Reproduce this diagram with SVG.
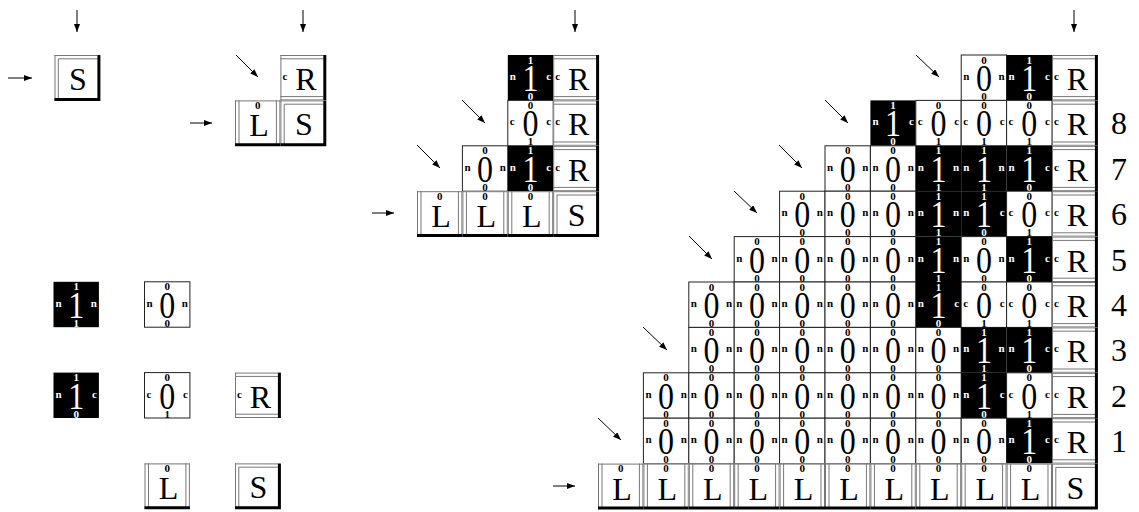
<svg xmlns="http://www.w3.org/2000/svg" width="1139" height="512" viewBox="0 0 1139 512">
<style>
text{font-family:"Liberation Serif","Times New Roman",serif;fill:#000}
.w{fill:#fff;stroke:#222;stroke-width:1}
.b{fill:#000}
.f{fill:#fff}
.d{fill:none;stroke:#777;stroke-width:1}
.k{fill:none;stroke:#000;stroke-width:3}
.sm{font-size:11px;font-weight:bold;text-anchor:middle}
.sl{font-size:11px;font-weight:bold}
.sr{font-size:11px;font-weight:bold;text-anchor:end}
.bg{font-size:32px;text-anchor:middle}
.lt{font-size:32px;text-anchor:middle}
.num{font-size:32px;text-anchor:middle}
.blk text{fill:#fff}
.ar{stroke:#000;stroke-width:1;fill:none;marker-end:url(#ah)}
</style>
<defs><marker id="ah" markerWidth="8" markerHeight="6" refX="8" refY="3" orient="auto" markerUnits="userSpaceOnUse"><path d="M0 0L8 3L0 6z" fill="#000"/></marker></defs>

<!-- single seed -->
<g id="seed1" transform="translate(54.5 55)"><rect class="f" width="45.4" height="45.4"/><path class="d" d="M0.5 0V45.4M3.8 3.8V45.4M0 0.5H43M3.8 3.8H43"/><path class="k" d="M44.4 0V44.4H0"/><text class="lt" x="23.5" y="35">S</text></g>

<!-- second assembly -->
<g id="a2-R" transform="translate(280.4 55)"><rect class="f" width="45.4" height="45.4"/><path class="d" d="M0.5 0V45.4M0 0.5H43M0 3.8H43M0 41.6H43M0 44.9H43"/><path class="k" d="M44.4 0V45.4"/><text class="sl" x="2" y="25">c</text><text class="lt" x="25.5" y="35">R</text></g>
<g id="a2-L" transform="translate(235 100.4)"><rect class="f" width="45.4" height="45.4"/><path class="d" d="M0.5 0V45.4M4 0V45.4M41.4 0V45.4M44.9 0V45.4M0 0.5H45.4"/><path class="k" d="M0 44.4H45.4"/><text class="sm" x="22.7" y="8.5">0</text><text class="lt" x="24" y="36">L</text></g>
<g id="a2-S" transform="translate(280.4 100.4)"><rect class="f" width="45.4" height="45.4"/><path class="d" d="M0.5 0V45.4M3.8 3.8V45.4M0 0.5H43M3.8 3.8H43"/><path class="k" d="M44.4 0V44.4H0"/><text class="lt" x="23.5" y="35">S</text></g>

<!-- legend -->
<g id="lg-b11" class="blk" transform="translate(53.5 281.8)"><rect class="b" width="45.4" height="45.4"/><text class="sm" x="22.7" y="8.5">1</text><text class="bg" transform="matrix(1 0 0 1.2 22.7 36)">1</text><text class="sm" x="22.7" y="45">1</text><text class="sl" x="2" y="25">n</text><text class="sr" x="43.4" y="25">n</text></g>
<g id="lg-w00" transform="translate(144.5 281.8)"><rect class="w" width="45.4" height="45.4"/><text class="sm" x="22.7" y="8.5">0</text><text class="bg" transform="matrix(1 0 0 1.2 22.7 36)">0</text><text class="sm" x="22.7" y="45">0</text><text class="sl" x="2" y="25">n</text><text class="sr" x="43.4" y="25">n</text></g>
<g id="lg-b10" class="blk" transform="translate(53.5 372.6)"><rect class="b" width="45.4" height="45.4"/><text class="sm" x="22.7" y="8.5">1</text><text class="bg" transform="matrix(1 0 0 1.2 22.7 36)">1</text><text class="sm" x="22.7" y="45">0</text><text class="sl" x="2" y="25">n</text><text class="sr" x="43.4" y="25">c</text></g>
<g id="lg-w01" transform="translate(144.5 372.6)"><rect class="w" width="45.4" height="45.4"/><text class="sm" x="22.7" y="8.5">0</text><text class="bg" transform="matrix(1 0 0 1.2 22.7 36)">0</text><text class="sm" x="22.7" y="45">1</text><text class="sl" x="2" y="25">c</text><text class="sr" x="43.4" y="25">c</text></g>
<g id="lg-R" transform="translate(235 372.6)"><rect class="f" width="45.4" height="45.4"/><path class="d" d="M0.5 0V45.4M0 0.5H43M0 3.8H43M0 41.6H43M0 44.9H43"/><path class="k" d="M44.4 0V45.4"/><text class="sl" x="2" y="25">c</text><text class="lt" x="25.5" y="35">R</text></g>
<g id="lg-L" transform="translate(144.5 463.4)"><rect class="f" width="45.4" height="45.4"/><path class="d" d="M0.5 0V45.4M4 0V45.4M41.4 0V45.4M44.9 0V45.4M0 0.5H45.4"/><path class="k" d="M0 44.4H45.4"/><text class="sm" x="22.7" y="8.5">0</text><text class="lt" x="24" y="36">L</text></g>
<g id="lg-S" transform="translate(235 463.4)"><rect class="f" width="45.4" height="45.4"/><path class="d" d="M0.5 0V45.4M3.8 3.8V45.4M0 0.5H43M3.8 3.8H43"/><path class="k" d="M44.4 0V44.4H0"/><text class="lt" x="23.5" y="35">S</text></g>

<!-- middle assembly -->
<g id="m-r3c2" class="blk" transform="translate(507.8 55)"><rect class="b" width="45.4" height="45.4"/><text class="sm" x="22.7" y="8.5">1</text><text class="bg" transform="matrix(1 0 0 1.2 22.7 36)">1</text><text class="sm" x="22.7" y="45">0</text><text class="sl" x="2" y="25">n</text><text class="sr" x="43.4" y="25">c</text></g>
<g id="m-r3R" transform="translate(553.2 55)"><rect class="f" width="45.4" height="45.4"/><path class="d" d="M0.5 0V45.4M0 0.5H43M0 3.8H43M0 41.6H43M0 44.9H43"/><path class="k" d="M44.4 0V45.4"/><text class="sl" x="2" y="25">c</text><text class="lt" x="25.5" y="35">R</text></g>
<g id="m-r2c2" transform="translate(507.8 100.4)"><rect class="w" width="45.4" height="45.4"/><text class="sm" x="22.7" y="8.5">0</text><text class="bg" transform="matrix(1 0 0 1.2 22.7 36)">0</text><text class="sm" x="22.7" y="45">1</text><text class="sl" x="2" y="25">c</text><text class="sr" x="43.4" y="25">c</text></g>
<g id="m-r2R" transform="translate(553.2 100.4)"><rect class="f" width="45.4" height="45.4"/><path class="d" d="M0.5 0V45.4M0 0.5H43M0 3.8H43M0 41.6H43M0 44.9H43"/><path class="k" d="M44.4 0V45.4"/><text class="sl" x="2" y="25">c</text><text class="lt" x="25.5" y="35">R</text></g>
<g id="m-r1c1" transform="translate(462.4 145.8)"><rect class="w" width="45.4" height="45.4"/><text class="sm" x="22.7" y="8.5">0</text><text class="bg" transform="matrix(1 0 0 1.2 22.7 36)">0</text><text class="sm" x="22.7" y="45">0</text><text class="sl" x="2" y="25">n</text><text class="sr" x="43.4" y="25">n</text></g>
<g id="m-r1c2" class="blk" transform="translate(507.8 145.8)"><rect class="b" width="45.4" height="45.4"/><text class="sm" x="22.7" y="8.5">1</text><text class="bg" transform="matrix(1 0 0 1.2 22.7 36)">1</text><text class="sm" x="22.7" y="45">0</text><text class="sl" x="2" y="25">n</text><text class="sr" x="43.4" y="25">c</text></g>
<g id="m-r1R" transform="translate(553.2 145.8)"><rect class="f" width="45.4" height="45.4"/><path class="d" d="M0.5 0V45.4M0 0.5H43M0 3.8H43M0 41.6H43M0 44.9H43"/><path class="k" d="M44.4 0V45.4"/><text class="sl" x="2" y="25">c</text><text class="lt" x="25.5" y="35">R</text></g>
<g id="m-L0" transform="translate(417 191.2)"><rect class="f" width="45.4" height="45.4"/><path class="d" d="M0.5 0V45.4M4 0V45.4M41.4 0V45.4M44.9 0V45.4M0 0.5H45.4"/><path class="k" d="M0 44.4H45.4"/><text class="sm" x="22.7" y="8.5">0</text><text class="lt" x="24" y="36">L</text></g>
<g id="m-L1" transform="translate(462.4 191.2)"><rect class="f" width="45.4" height="45.4"/><path class="d" d="M0.5 0V45.4M4 0V45.4M41.4 0V45.4M44.9 0V45.4M0 0.5H45.4"/><path class="k" d="M0 44.4H45.4"/><text class="sm" x="22.7" y="8.5">0</text><text class="lt" x="24" y="36">L</text></g>
<g id="m-L2" transform="translate(507.8 191.2)"><rect class="f" width="45.4" height="45.4"/><path class="d" d="M0.5 0V45.4M4 0V45.4M41.4 0V45.4M44.9 0V45.4M0 0.5H45.4"/><path class="k" d="M0 44.4H45.4"/><text class="sm" x="22.7" y="8.5">0</text><text class="lt" x="24" y="36">L</text></g>
<g id="m-S" transform="translate(553.2 191.2)"><rect class="f" width="45.4" height="45.4"/><path class="d" d="M0.5 0V45.4M3.8 3.8V45.4M0 0.5H43M3.8 3.8H43"/><path class="k" d="M44.4 0V44.4H0"/><text class="lt" x="23.5" y="35">S</text></g>

<!-- big assembly: row 9 -->
<g id="r9c8" transform="translate(961.2 55)"><rect class="w" width="45.4" height="45.4"/><text class="sm" x="22.7" y="8.5">0</text><text class="bg" transform="matrix(1 0 0 1.2 22.7 36)">0</text><text class="sm" x="22.7" y="45">0</text><text class="sl" x="2" y="25">n</text><text class="sr" x="43.4" y="25">n</text></g>
<g id="r9c9" class="blk" transform="translate(1006.6 55)"><rect class="b" width="45.4" height="45.4"/><text class="sm" x="22.7" y="8.5">1</text><text class="bg" transform="matrix(1 0 0 1.2 22.7 36)">1</text><text class="sm" x="22.7" y="45">0</text><text class="sl" x="2" y="25">n</text><text class="sr" x="43.4" y="25">c</text></g>
<g id="r9R" transform="translate(1052 55)"><rect class="f" width="45.4" height="45.4"/><path class="d" d="M0.5 0V45.4M0 0.5H43M0 3.8H43M0 41.6H43M0 44.9H43"/><path class="k" d="M44.4 0V45.4"/><text class="sl" x="2" y="25">c</text><text class="lt" x="25.5" y="35">R</text></g>

<!-- row 8 -->
<g id="r8c6" class="blk" transform="translate(870.4 100.4)"><rect class="b" width="45.4" height="45.4"/><text class="sm" x="22.7" y="8.5">1</text><text class="bg" transform="matrix(1 0 0 1.2 22.7 36)">1</text><text class="sm" x="22.7" y="45">0</text><text class="sl" x="2" y="25">n</text><text class="sr" x="43.4" y="25">c</text></g>
<g id="r8c7" transform="translate(915.8 100.4)"><rect class="w" width="45.4" height="45.4"/><text class="sm" x="22.7" y="8.5">0</text><text class="bg" transform="matrix(1 0 0 1.2 22.7 36)">0</text><text class="sm" x="22.7" y="45">1</text><text class="sl" x="2" y="25">c</text><text class="sr" x="43.4" y="25">c</text></g>
<g id="r8c8" transform="translate(961.2 100.4)"><rect class="w" width="45.4" height="45.4"/><text class="sm" x="22.7" y="8.5">0</text><text class="bg" transform="matrix(1 0 0 1.2 22.7 36)">0</text><text class="sm" x="22.7" y="45">1</text><text class="sl" x="2" y="25">c</text><text class="sr" x="43.4" y="25">c</text></g>
<g id="r8c9" transform="translate(1006.6 100.4)"><rect class="w" width="45.4" height="45.4"/><text class="sm" x="22.7" y="8.5">0</text><text class="bg" transform="matrix(1 0 0 1.2 22.7 36)">0</text><text class="sm" x="22.7" y="45">1</text><text class="sl" x="2" y="25">c</text><text class="sr" x="43.4" y="25">c</text></g>
<g id="r8R" transform="translate(1052 100.4)"><rect class="f" width="45.4" height="45.4"/><path class="d" d="M0.5 0V45.4M0 0.5H43M0 3.8H43M0 41.6H43M0 44.9H43"/><path class="k" d="M44.4 0V45.4"/><text class="sl" x="2" y="25">c</text><text class="lt" x="25.5" y="35">R</text></g>

<!-- row 7 -->
<g id="r7c5" transform="translate(825 145.8)"><rect class="w" width="45.4" height="45.4"/><text class="sm" x="22.7" y="8.5">0</text><text class="bg" transform="matrix(1 0 0 1.2 22.7 36)">0</text><text class="sm" x="22.7" y="45">0</text><text class="sl" x="2" y="25">n</text><text class="sr" x="43.4" y="25">n</text></g>
<g id="r7c6" transform="translate(870.4 145.8)"><rect class="w" width="45.4" height="45.4"/><text class="sm" x="22.7" y="8.5">0</text><text class="bg" transform="matrix(1 0 0 1.2 22.7 36)">0</text><text class="sm" x="22.7" y="45">0</text><text class="sl" x="2" y="25">n</text><text class="sr" x="43.4" y="25">n</text></g>
<g id="r7c7" class="blk" transform="translate(915.8 145.8)"><rect class="b" width="45.4" height="45.4"/><text class="sm" x="22.7" y="8.5">1</text><text class="bg" transform="matrix(1 0 0 1.2 22.7 36)">1</text><text class="sm" x="22.7" y="45">1</text><text class="sl" x="2" y="25">n</text><text class="sr" x="43.4" y="25">n</text></g>
<g id="r7c8" class="blk" transform="translate(961.2 145.8)"><rect class="b" width="45.4" height="45.4"/><text class="sm" x="22.7" y="8.5">1</text><text class="bg" transform="matrix(1 0 0 1.2 22.7 36)">1</text><text class="sm" x="22.7" y="45">1</text><text class="sl" x="2" y="25">n</text><text class="sr" x="43.4" y="25">n</text></g>
<g id="r7c9" class="blk" transform="translate(1006.6 145.8)"><rect class="b" width="45.4" height="45.4"/><text class="sm" x="22.7" y="8.5">1</text><text class="bg" transform="matrix(1 0 0 1.2 22.7 36)">1</text><text class="sm" x="22.7" y="45">0</text><text class="sl" x="2" y="25">n</text><text class="sr" x="43.4" y="25">c</text></g>
<g id="r7R" transform="translate(1052 145.8)"><rect class="f" width="45.4" height="45.4"/><path class="d" d="M0.5 0V45.4M0 0.5H43M0 3.8H43M0 41.6H43M0 44.9H43"/><path class="k" d="M44.4 0V45.4"/><text class="sl" x="2" y="25">c</text><text class="lt" x="25.5" y="35">R</text></g>

<!-- row 6 -->
<g id="r6c4" transform="translate(779.6 191.2)"><rect class="w" width="45.4" height="45.4"/><text class="sm" x="22.7" y="8.5">0</text><text class="bg" transform="matrix(1 0 0 1.2 22.7 36)">0</text><text class="sm" x="22.7" y="45">0</text><text class="sl" x="2" y="25">n</text><text class="sr" x="43.4" y="25">n</text></g>
<g id="r6c5" transform="translate(825 191.2)"><rect class="w" width="45.4" height="45.4"/><text class="sm" x="22.7" y="8.5">0</text><text class="bg" transform="matrix(1 0 0 1.2 22.7 36)">0</text><text class="sm" x="22.7" y="45">0</text><text class="sl" x="2" y="25">n</text><text class="sr" x="43.4" y="25">n</text></g>
<g id="r6c6" transform="translate(870.4 191.2)"><rect class="w" width="45.4" height="45.4"/><text class="sm" x="22.7" y="8.5">0</text><text class="bg" transform="matrix(1 0 0 1.2 22.7 36)">0</text><text class="sm" x="22.7" y="45">0</text><text class="sl" x="2" y="25">n</text><text class="sr" x="43.4" y="25">n</text></g>
<g id="r6c7" class="blk" transform="translate(915.8 191.2)"><rect class="b" width="45.4" height="45.4"/><text class="sm" x="22.7" y="8.5">1</text><text class="bg" transform="matrix(1 0 0 1.2 22.7 36)">1</text><text class="sm" x="22.7" y="45">1</text><text class="sl" x="2" y="25">n</text><text class="sr" x="43.4" y="25">n</text></g>
<g id="r6c8" class="blk" transform="translate(961.2 191.2)"><rect class="b" width="45.4" height="45.4"/><text class="sm" x="22.7" y="8.5">1</text><text class="bg" transform="matrix(1 0 0 1.2 22.7 36)">1</text><text class="sm" x="22.7" y="45">0</text><text class="sl" x="2" y="25">n</text><text class="sr" x="43.4" y="25">c</text></g>
<g id="r6c9" transform="translate(1006.6 191.2)"><rect class="w" width="45.4" height="45.4"/><text class="sm" x="22.7" y="8.5">0</text><text class="bg" transform="matrix(1 0 0 1.2 22.7 36)">0</text><text class="sm" x="22.7" y="45">1</text><text class="sl" x="2" y="25">c</text><text class="sr" x="43.4" y="25">c</text></g>
<g id="r6R" transform="translate(1052 191.2)"><rect class="f" width="45.4" height="45.4"/><path class="d" d="M0.5 0V45.4M0 0.5H43M0 3.8H43M0 41.6H43M0 44.9H43"/><path class="k" d="M44.4 0V45.4"/><text class="sl" x="2" y="25">c</text><text class="lt" x="25.5" y="35">R</text></g>

<!-- row 5 -->
<g id="r5c3" transform="translate(734.2 236.6)"><rect class="w" width="45.4" height="45.4"/><text class="sm" x="22.7" y="8.5">0</text><text class="bg" transform="matrix(1 0 0 1.2 22.7 36)">0</text><text class="sm" x="22.7" y="45">0</text><text class="sl" x="2" y="25">n</text><text class="sr" x="43.4" y="25">n</text></g>
<g id="r5c4" transform="translate(779.6 236.6)"><rect class="w" width="45.4" height="45.4"/><text class="sm" x="22.7" y="8.5">0</text><text class="bg" transform="matrix(1 0 0 1.2 22.7 36)">0</text><text class="sm" x="22.7" y="45">0</text><text class="sl" x="2" y="25">n</text><text class="sr" x="43.4" y="25">n</text></g>
<g id="r5c5" transform="translate(825 236.6)"><rect class="w" width="45.4" height="45.4"/><text class="sm" x="22.7" y="8.5">0</text><text class="bg" transform="matrix(1 0 0 1.2 22.7 36)">0</text><text class="sm" x="22.7" y="45">0</text><text class="sl" x="2" y="25">n</text><text class="sr" x="43.4" y="25">n</text></g>
<g id="r5c6" transform="translate(870.4 236.6)"><rect class="w" width="45.4" height="45.4"/><text class="sm" x="22.7" y="8.5">0</text><text class="bg" transform="matrix(1 0 0 1.2 22.7 36)">0</text><text class="sm" x="22.7" y="45">0</text><text class="sl" x="2" y="25">n</text><text class="sr" x="43.4" y="25">n</text></g>
<g id="r5c7" class="blk" transform="translate(915.8 236.6)"><rect class="b" width="45.4" height="45.4"/><text class="sm" x="22.7" y="8.5">1</text><text class="bg" transform="matrix(1 0 0 1.2 22.7 36)">1</text><text class="sm" x="22.7" y="45">1</text><text class="sl" x="2" y="25">n</text><text class="sr" x="43.4" y="25">n</text></g>
<g id="r5c8" transform="translate(961.2 236.6)"><rect class="w" width="45.4" height="45.4"/><text class="sm" x="22.7" y="8.5">0</text><text class="bg" transform="matrix(1 0 0 1.2 22.7 36)">0</text><text class="sm" x="22.7" y="45">0</text><text class="sl" x="2" y="25">n</text><text class="sr" x="43.4" y="25">n</text></g>
<g id="r5c9" class="blk" transform="translate(1006.6 236.6)"><rect class="b" width="45.4" height="45.4"/><text class="sm" x="22.7" y="8.5">1</text><text class="bg" transform="matrix(1 0 0 1.2 22.7 36)">1</text><text class="sm" x="22.7" y="45">0</text><text class="sl" x="2" y="25">n</text><text class="sr" x="43.4" y="25">c</text></g>
<g id="r5R" transform="translate(1052 236.6)"><rect class="f" width="45.4" height="45.4"/><path class="d" d="M0.5 0V45.4M0 0.5H43M0 3.8H43M0 41.6H43M0 44.9H43"/><path class="k" d="M44.4 0V45.4"/><text class="sl" x="2" y="25">c</text><text class="lt" x="25.5" y="35">R</text></g>

<!-- row 4 -->
<g id="r4c2" transform="translate(688.8 282)"><rect class="w" width="45.4" height="45.4"/><text class="sm" x="22.7" y="8.5">0</text><text class="bg" transform="matrix(1 0 0 1.2 22.7 36)">0</text><text class="sm" x="22.7" y="45">0</text><text class="sl" x="2" y="25">n</text><text class="sr" x="43.4" y="25">n</text></g>
<g id="r4c3" transform="translate(734.2 282)"><rect class="w" width="45.4" height="45.4"/><text class="sm" x="22.7" y="8.5">0</text><text class="bg" transform="matrix(1 0 0 1.2 22.7 36)">0</text><text class="sm" x="22.7" y="45">0</text><text class="sl" x="2" y="25">n</text><text class="sr" x="43.4" y="25">n</text></g>
<g id="r4c4" transform="translate(779.6 282)"><rect class="w" width="45.4" height="45.4"/><text class="sm" x="22.7" y="8.5">0</text><text class="bg" transform="matrix(1 0 0 1.2 22.7 36)">0</text><text class="sm" x="22.7" y="45">0</text><text class="sl" x="2" y="25">n</text><text class="sr" x="43.4" y="25">n</text></g>
<g id="r4c5" transform="translate(825 282)"><rect class="w" width="45.4" height="45.4"/><text class="sm" x="22.7" y="8.5">0</text><text class="bg" transform="matrix(1 0 0 1.2 22.7 36)">0</text><text class="sm" x="22.7" y="45">0</text><text class="sl" x="2" y="25">n</text><text class="sr" x="43.4" y="25">n</text></g>
<g id="r4c6" transform="translate(870.4 282)"><rect class="w" width="45.4" height="45.4"/><text class="sm" x="22.7" y="8.5">0</text><text class="bg" transform="matrix(1 0 0 1.2 22.7 36)">0</text><text class="sm" x="22.7" y="45">0</text><text class="sl" x="2" y="25">n</text><text class="sr" x="43.4" y="25">n</text></g>
<g id="r4c7" class="blk" transform="translate(915.8 282)"><rect class="b" width="45.4" height="45.4"/><text class="sm" x="22.7" y="8.5">1</text><text class="bg" transform="matrix(1 0 0 1.2 22.7 36)">1</text><text class="sm" x="22.7" y="45">0</text><text class="sl" x="2" y="25">n</text><text class="sr" x="43.4" y="25">c</text></g>
<g id="r4c8" transform="translate(961.2 282)"><rect class="w" width="45.4" height="45.4"/><text class="sm" x="22.7" y="8.5">0</text><text class="bg" transform="matrix(1 0 0 1.2 22.7 36)">0</text><text class="sm" x="22.7" y="45">1</text><text class="sl" x="2" y="25">c</text><text class="sr" x="43.4" y="25">c</text></g>
<g id="r4c9" transform="translate(1006.6 282)"><rect class="w" width="45.4" height="45.4"/><text class="sm" x="22.7" y="8.5">0</text><text class="bg" transform="matrix(1 0 0 1.2 22.7 36)">0</text><text class="sm" x="22.7" y="45">1</text><text class="sl" x="2" y="25">c</text><text class="sr" x="43.4" y="25">c</text></g>
<g id="r4R" transform="translate(1052 282)"><rect class="f" width="45.4" height="45.4"/><path class="d" d="M0.5 0V45.4M0 0.5H43M0 3.8H43M0 41.6H43M0 44.9H43"/><path class="k" d="M44.4 0V45.4"/><text class="sl" x="2" y="25">c</text><text class="lt" x="25.5" y="35">R</text></g>

<!-- row 3 -->
<g id="r3c2" transform="translate(688.8 327.4)"><rect class="w" width="45.4" height="45.4"/><text class="sm" x="22.7" y="8.5">0</text><text class="bg" transform="matrix(1 0 0 1.2 22.7 36)">0</text><text class="sm" x="22.7" y="45">0</text><text class="sl" x="2" y="25">n</text><text class="sr" x="43.4" y="25">n</text></g>
<g id="r3c3" transform="translate(734.2 327.4)"><rect class="w" width="45.4" height="45.4"/><text class="sm" x="22.7" y="8.5">0</text><text class="bg" transform="matrix(1 0 0 1.2 22.7 36)">0</text><text class="sm" x="22.7" y="45">0</text><text class="sl" x="2" y="25">n</text><text class="sr" x="43.4" y="25">n</text></g>
<g id="r3c4" transform="translate(779.6 327.4)"><rect class="w" width="45.4" height="45.4"/><text class="sm" x="22.7" y="8.5">0</text><text class="bg" transform="matrix(1 0 0 1.2 22.7 36)">0</text><text class="sm" x="22.7" y="45">0</text><text class="sl" x="2" y="25">n</text><text class="sr" x="43.4" y="25">n</text></g>
<g id="r3c5" transform="translate(825 327.4)"><rect class="w" width="45.4" height="45.4"/><text class="sm" x="22.7" y="8.5">0</text><text class="bg" transform="matrix(1 0 0 1.2 22.7 36)">0</text><text class="sm" x="22.7" y="45">0</text><text class="sl" x="2" y="25">n</text><text class="sr" x="43.4" y="25">n</text></g>
<g id="r3c6" transform="translate(870.4 327.4)"><rect class="w" width="45.4" height="45.4"/><text class="sm" x="22.7" y="8.5">0</text><text class="bg" transform="matrix(1 0 0 1.2 22.7 36)">0</text><text class="sm" x="22.7" y="45">0</text><text class="sl" x="2" y="25">n</text><text class="sr" x="43.4" y="25">n</text></g>
<g id="r3c7" transform="translate(915.8 327.4)"><rect class="w" width="45.4" height="45.4"/><text class="sm" x="22.7" y="8.5">0</text><text class="bg" transform="matrix(1 0 0 1.2 22.7 36)">0</text><text class="sm" x="22.7" y="45">0</text><text class="sl" x="2" y="25">n</text><text class="sr" x="43.4" y="25">n</text></g>
<g id="r3c8" class="blk" transform="translate(961.2 327.4)"><rect class="b" width="45.4" height="45.4"/><text class="sm" x="22.7" y="8.5">1</text><text class="bg" transform="matrix(1 0 0 1.2 22.7 36)">1</text><text class="sm" x="22.7" y="45">1</text><text class="sl" x="2" y="25">n</text><text class="sr" x="43.4" y="25">n</text></g>
<g id="r3c9" class="blk" transform="translate(1006.6 327.4)"><rect class="b" width="45.4" height="45.4"/><text class="sm" x="22.7" y="8.5">1</text><text class="bg" transform="matrix(1 0 0 1.2 22.7 36)">1</text><text class="sm" x="22.7" y="45">0</text><text class="sl" x="2" y="25">n</text><text class="sr" x="43.4" y="25">c</text></g>
<g id="r3R" transform="translate(1052 327.4)"><rect class="f" width="45.4" height="45.4"/><path class="d" d="M0.5 0V45.4M0 0.5H43M0 3.8H43M0 41.6H43M0 44.9H43"/><path class="k" d="M44.4 0V45.4"/><text class="sl" x="2" y="25">c</text><text class="lt" x="25.5" y="35">R</text></g>

<!-- row 2 -->
<g id="r2c1" transform="translate(643.4 372.8)"><rect class="w" width="45.4" height="45.4"/><text class="sm" x="22.7" y="8.5">0</text><text class="bg" transform="matrix(1 0 0 1.2 22.7 36)">0</text><text class="sm" x="22.7" y="45">0</text><text class="sl" x="2" y="25">n</text><text class="sr" x="43.4" y="25">n</text></g>
<g id="r2c2" transform="translate(688.8 372.8)"><rect class="w" width="45.4" height="45.4"/><text class="sm" x="22.7" y="8.5">0</text><text class="bg" transform="matrix(1 0 0 1.2 22.7 36)">0</text><text class="sm" x="22.7" y="45">0</text><text class="sl" x="2" y="25">n</text><text class="sr" x="43.4" y="25">n</text></g>
<g id="r2c3" transform="translate(734.2 372.8)"><rect class="w" width="45.4" height="45.4"/><text class="sm" x="22.7" y="8.5">0</text><text class="bg" transform="matrix(1 0 0 1.2 22.7 36)">0</text><text class="sm" x="22.7" y="45">0</text><text class="sl" x="2" y="25">n</text><text class="sr" x="43.4" y="25">n</text></g>
<g id="r2c4" transform="translate(779.6 372.8)"><rect class="w" width="45.4" height="45.4"/><text class="sm" x="22.7" y="8.5">0</text><text class="bg" transform="matrix(1 0 0 1.2 22.7 36)">0</text><text class="sm" x="22.7" y="45">0</text><text class="sl" x="2" y="25">n</text><text class="sr" x="43.4" y="25">n</text></g>
<g id="r2c5" transform="translate(825 372.8)"><rect class="w" width="45.4" height="45.4"/><text class="sm" x="22.7" y="8.5">0</text><text class="bg" transform="matrix(1 0 0 1.2 22.7 36)">0</text><text class="sm" x="22.7" y="45">0</text><text class="sl" x="2" y="25">n</text><text class="sr" x="43.4" y="25">n</text></g>
<g id="r2c6" transform="translate(870.4 372.8)"><rect class="w" width="45.4" height="45.4"/><text class="sm" x="22.7" y="8.5">0</text><text class="bg" transform="matrix(1 0 0 1.2 22.7 36)">0</text><text class="sm" x="22.7" y="45">0</text><text class="sl" x="2" y="25">n</text><text class="sr" x="43.4" y="25">n</text></g>
<g id="r2c7" transform="translate(915.8 372.8)"><rect class="w" width="45.4" height="45.4"/><text class="sm" x="22.7" y="8.5">0</text><text class="bg" transform="matrix(1 0 0 1.2 22.7 36)">0</text><text class="sm" x="22.7" y="45">0</text><text class="sl" x="2" y="25">n</text><text class="sr" x="43.4" y="25">n</text></g>
<g id="r2c8" class="blk" transform="translate(961.2 372.8)"><rect class="b" width="45.4" height="45.4"/><text class="sm" x="22.7" y="8.5">1</text><text class="bg" transform="matrix(1 0 0 1.2 22.7 36)">1</text><text class="sm" x="22.7" y="45">0</text><text class="sl" x="2" y="25">n</text><text class="sr" x="43.4" y="25">c</text></g>
<g id="r2c9" transform="translate(1006.6 372.8)"><rect class="w" width="45.4" height="45.4"/><text class="sm" x="22.7" y="8.5">0</text><text class="bg" transform="matrix(1 0 0 1.2 22.7 36)">0</text><text class="sm" x="22.7" y="45">1</text><text class="sl" x="2" y="25">c</text><text class="sr" x="43.4" y="25">c</text></g>
<g id="r2R" transform="translate(1052 372.8)"><rect class="f" width="45.4" height="45.4"/><path class="d" d="M0.5 0V45.4M0 0.5H43M0 3.8H43M0 41.6H43M0 44.9H43"/><path class="k" d="M44.4 0V45.4"/><text class="sl" x="2" y="25">c</text><text class="lt" x="25.5" y="35">R</text></g>

<!-- row 1 -->
<g id="r1c1" transform="translate(643.4 418.2)"><rect class="w" width="45.4" height="45.4"/><text class="sm" x="22.7" y="8.5">0</text><text class="bg" transform="matrix(1 0 0 1.2 22.7 36)">0</text><text class="sm" x="22.7" y="45">0</text><text class="sl" x="2" y="25">n</text><text class="sr" x="43.4" y="25">n</text></g>
<g id="r1c2" transform="translate(688.8 418.2)"><rect class="w" width="45.4" height="45.4"/><text class="sm" x="22.7" y="8.5">0</text><text class="bg" transform="matrix(1 0 0 1.2 22.7 36)">0</text><text class="sm" x="22.7" y="45">0</text><text class="sl" x="2" y="25">n</text><text class="sr" x="43.4" y="25">n</text></g>
<g id="r1c3" transform="translate(734.2 418.2)"><rect class="w" width="45.4" height="45.4"/><text class="sm" x="22.7" y="8.5">0</text><text class="bg" transform="matrix(1 0 0 1.2 22.7 36)">0</text><text class="sm" x="22.7" y="45">0</text><text class="sl" x="2" y="25">n</text><text class="sr" x="43.4" y="25">n</text></g>
<g id="r1c4" transform="translate(779.6 418.2)"><rect class="w" width="45.4" height="45.4"/><text class="sm" x="22.7" y="8.5">0</text><text class="bg" transform="matrix(1 0 0 1.2 22.7 36)">0</text><text class="sm" x="22.7" y="45">0</text><text class="sl" x="2" y="25">n</text><text class="sr" x="43.4" y="25">n</text></g>
<g id="r1c5" transform="translate(825 418.2)"><rect class="w" width="45.4" height="45.4"/><text class="sm" x="22.7" y="8.5">0</text><text class="bg" transform="matrix(1 0 0 1.2 22.7 36)">0</text><text class="sm" x="22.7" y="45">0</text><text class="sl" x="2" y="25">n</text><text class="sr" x="43.4" y="25">n</text></g>
<g id="r1c6" transform="translate(870.4 418.2)"><rect class="w" width="45.4" height="45.4"/><text class="sm" x="22.7" y="8.5">0</text><text class="bg" transform="matrix(1 0 0 1.2 22.7 36)">0</text><text class="sm" x="22.7" y="45">0</text><text class="sl" x="2" y="25">n</text><text class="sr" x="43.4" y="25">n</text></g>
<g id="r1c7" transform="translate(915.8 418.2)"><rect class="w" width="45.4" height="45.4"/><text class="sm" x="22.7" y="8.5">0</text><text class="bg" transform="matrix(1 0 0 1.2 22.7 36)">0</text><text class="sm" x="22.7" y="45">0</text><text class="sl" x="2" y="25">n</text><text class="sr" x="43.4" y="25">n</text></g>
<g id="r1c8" transform="translate(961.2 418.2)"><rect class="w" width="45.4" height="45.4"/><text class="sm" x="22.7" y="8.5">0</text><text class="bg" transform="matrix(1 0 0 1.2 22.7 36)">0</text><text class="sm" x="22.7" y="45">0</text><text class="sl" x="2" y="25">n</text><text class="sr" x="43.4" y="25">n</text></g>
<g id="r1c9" class="blk" transform="translate(1006.6 418.2)"><rect class="b" width="45.4" height="45.4"/><text class="sm" x="22.7" y="8.5">1</text><text class="bg" transform="matrix(1 0 0 1.2 22.7 36)">1</text><text class="sm" x="22.7" y="45">0</text><text class="sl" x="2" y="25">n</text><text class="sr" x="43.4" y="25">c</text></g>
<g id="r1R" transform="translate(1052 418.2)"><rect class="f" width="45.4" height="45.4"/><path class="d" d="M0.5 0V45.4M0 0.5H43M0 3.8H43M0 41.6H43M0 44.9H43"/><path class="k" d="M44.4 0V45.4"/><text class="sl" x="2" y="25">c</text><text class="lt" x="25.5" y="35">R</text></g>

<!-- row 0 -->
<g id="r0c0" transform="translate(598 463.6)"><rect class="f" width="45.4" height="45.4"/><path class="d" d="M0.5 0V45.4M4 0V45.4M41.4 0V45.4M44.9 0V45.4M0 0.5H45.4"/><path class="k" d="M0 44.4H45.4"/><text class="sm" x="22.7" y="8.5">0</text><text class="lt" x="24" y="36">L</text></g>
<g id="r0c1" transform="translate(643.4 463.6)"><rect class="f" width="45.4" height="45.4"/><path class="d" d="M0.5 0V45.4M4 0V45.4M41.4 0V45.4M44.9 0V45.4M0 0.5H45.4"/><path class="k" d="M0 44.4H45.4"/><text class="sm" x="22.7" y="8.5">0</text><text class="lt" x="24" y="36">L</text></g>
<g id="r0c2" transform="translate(688.8 463.6)"><rect class="f" width="45.4" height="45.4"/><path class="d" d="M0.5 0V45.4M4 0V45.4M41.4 0V45.4M44.9 0V45.4M0 0.5H45.4"/><path class="k" d="M0 44.4H45.4"/><text class="sm" x="22.7" y="8.5">0</text><text class="lt" x="24" y="36">L</text></g>
<g id="r0c3" transform="translate(734.2 463.6)"><rect class="f" width="45.4" height="45.4"/><path class="d" d="M0.5 0V45.4M4 0V45.4M41.4 0V45.4M44.9 0V45.4M0 0.5H45.4"/><path class="k" d="M0 44.4H45.4"/><text class="sm" x="22.7" y="8.5">0</text><text class="lt" x="24" y="36">L</text></g>
<g id="r0c4" transform="translate(779.6 463.6)"><rect class="f" width="45.4" height="45.4"/><path class="d" d="M0.5 0V45.4M4 0V45.4M41.4 0V45.4M44.9 0V45.4M0 0.5H45.4"/><path class="k" d="M0 44.4H45.4"/><text class="sm" x="22.7" y="8.5">0</text><text class="lt" x="24" y="36">L</text></g>
<g id="r0c5" transform="translate(825 463.6)"><rect class="f" width="45.4" height="45.4"/><path class="d" d="M0.5 0V45.4M4 0V45.4M41.4 0V45.4M44.9 0V45.4M0 0.5H45.4"/><path class="k" d="M0 44.4H45.4"/><text class="sm" x="22.7" y="8.5">0</text><text class="lt" x="24" y="36">L</text></g>
<g id="r0c6" transform="translate(870.4 463.6)"><rect class="f" width="45.4" height="45.4"/><path class="d" d="M0.5 0V45.4M4 0V45.4M41.4 0V45.4M44.9 0V45.4M0 0.5H45.4"/><path class="k" d="M0 44.4H45.4"/><text class="sm" x="22.7" y="8.5">0</text><text class="lt" x="24" y="36">L</text></g>
<g id="r0c7" transform="translate(915.8 463.6)"><rect class="f" width="45.4" height="45.4"/><path class="d" d="M0.5 0V45.4M4 0V45.4M41.4 0V45.4M44.9 0V45.4M0 0.5H45.4"/><path class="k" d="M0 44.4H45.4"/><text class="sm" x="22.7" y="8.5">0</text><text class="lt" x="24" y="36">L</text></g>
<g id="r0c8" transform="translate(961.2 463.6)"><rect class="f" width="45.4" height="45.4"/><path class="d" d="M0.5 0V45.4M4 0V45.4M41.4 0V45.4M44.9 0V45.4M0 0.5H45.4"/><path class="k" d="M0 44.4H45.4"/><text class="sm" x="22.7" y="8.5">0</text><text class="lt" x="24" y="36">L</text></g>
<g id="r0c9" transform="translate(1006.6 463.6)"><rect class="f" width="45.4" height="45.4"/><path class="d" d="M0.5 0V45.4M4 0V45.4M41.4 0V45.4M44.9 0V45.4M0 0.5H45.4"/><path class="k" d="M0 44.4H45.4"/><text class="sm" x="22.7" y="8.5">0</text><text class="lt" x="24" y="36">L</text></g>
<g id="r0S" transform="translate(1052 463.6)"><rect class="f" width="45.4" height="45.4"/><path class="d" d="M0.5 0V45.4M3.8 3.8V45.4M0 0.5H43M3.8 3.8H43"/><path class="k" d="M44.4 0V44.4H0"/><text class="lt" x="23.5" y="35">S</text></g>

<!-- row numbers -->
<g id="row-labels">
<text class="num" x="1119" y="134.4">8</text>
<text class="num" x="1119" y="179.8">7</text>
<text class="num" x="1119" y="225.2">6</text>
<text class="num" x="1119" y="270.6">5</text>
<text class="num" x="1119" y="316">4</text>
<text class="num" x="1119" y="361.4">3</text>
<text class="num" x="1119" y="406.8">2</text>
<text class="num" x="1119" y="452.2">1</text>
</g>

<!-- connectors -->
<g id="connectors">
<line class="ar" x1="77" y1="10" x2="77" y2="32"/>
<line class="ar" x1="303" y1="10" x2="303" y2="32"/>
<line class="ar" x1="575" y1="10" x2="575" y2="32"/>
<line class="ar" x1="1074" y1="10" x2="1074" y2="32"/>
<line class="ar" x1="8" y1="78" x2="32" y2="78"/>
<line class="ar" x1="190" y1="123" x2="212" y2="123"/>
<line class="ar" x1="372" y1="213" x2="394" y2="213"/>
<line class="ar" x1="553" y1="486" x2="575" y2="486"/>
<line class="ar" x1="236" y1="55" x2="258" y2="77"/>
<line class="ar" x1="462" y1="100" x2="485" y2="123"/>
<line class="ar" x1="417" y1="145" x2="440" y2="168"/>
<line class="ar" x1="916" y1="55" x2="939" y2="77"/>
<line class="ar" x1="825" y1="100" x2="848" y2="123"/>
<line class="ar" x1="779" y1="145" x2="802" y2="168"/>
<line class="ar" x1="734" y1="191" x2="757" y2="213"/>
<line class="ar" x1="689" y1="236" x2="712" y2="259"/>
<line class="ar" x1="643" y1="327" x2="667" y2="350"/>
<line class="ar" x1="598" y1="418" x2="621" y2="440"/>
</g>
</svg>
